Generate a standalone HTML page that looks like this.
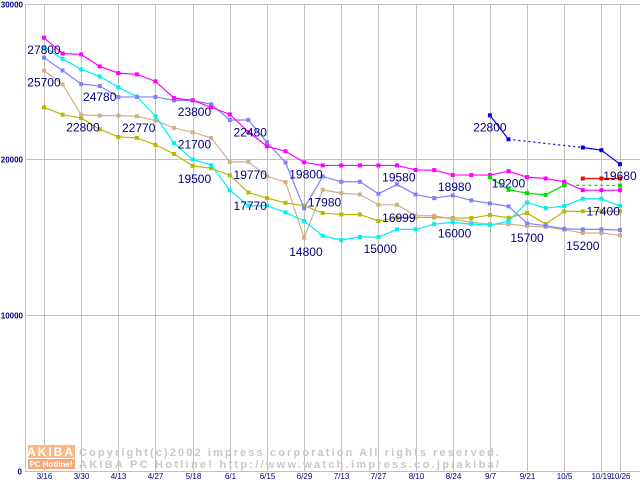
<!DOCTYPE html>
<html><head><meta charset="utf-8"><style>
body{margin:0;background:#fff;width:640px;height:480px;overflow:hidden}
svg{display:block}
text{font-family:"Liberation Sans",sans-serif}
</style></head><body>
<svg id="chart" width="640" height="480" viewBox="0 0 640 480" xmlns="http://www.w3.org/2000/svg">
<g id="grid"></g>
<g id="axes"></g>
<g id="watermark">
  <rect x="28" y="445" width="47" height="13" fill="#f8b888"/>
  <text x="51" y="456" font-size="12" font-weight="bold" fill="#fff" text-anchor="middle" letter-spacing="2">AKIBA</text>
  <rect x="28" y="459" width="47" height="10" fill="#f8a878"/>
  <text x="51" y="467" font-size="8" font-weight="bold" fill="#fff" text-anchor="middle">PC Hotline!</text>
  <text x="79" y="456" font-size="11" font-weight="bold" fill="#c8c8c8" textLength="420">Copyright(c)2002 impress corporation All rights reserved.</text>
  <text x="79" y="468" font-size="11" font-weight="bold" fill="#c8c8c8" textLength="420">AKIBA PC Hotline!  http://www.watch.impress.co.jp/akiba/</text>
</g>
<g id="series"></g>
<g id="labels"></g>
</svg>
<script>
const xTickLabels=["3/16","3/30","4/13","4/27","5/18","6/1","6/15","6/29","7/13","7/27","8/10","8/24","9/7","9/21","10/5","10/19","10/26"];
const xTickIndex=[0,2,4,6,8,10,12,14,16,18,20,22,24,26,28,30,31];
const yTicks=[0,10000,20000,30000];
const magenta=[27800,26790,26730,25960,25530,25450,25000,23930,23780,23330,22880,21750,20830,20510,19800,19600,19600,19600,19600,19600,19310,19300,18990,18980,18980,19230,18850,18760,18550,18010,18010,18010];
const lightBlue=[26520,25700,24830,24700,24000,24000,24000,23780,23780,23530,22520,22520,21090,19790,16840,18890,18550,18550,17780,18380,17730,17500,17670,17350,17160,16970,15880,15730,15530,15490,15490,15450];
const cyan=[27200,26450,25770,25320,24620,24020,22760,21030,19980,19620,18010,17010,17010,16580,16030,15080,14810,15000,15000,15490,15490,15830,15940,15830,15770,16010,17220,16860,16990,17460,17460,16990];
const tan=[25700,24810,22860,22800,22800,22760,22480,22010,21730,21370,19830,19830,18910,18530,14950,18030,17820,17730,17070,17070,16370,16370,16150,15940,15830,15830,15710,15640,15470,15260,15260,15110];
const olive=[23330,22860,22650,21920,21430,21370,20920,20340,19570,19420,18970,17860,17500,17200,17010,16540,16450,16450,16030,16240,16260,16260,16220,16220,16410,16240,16540,15830,16650,16650,16650,16650];
const greenSolid=[null,null,null,null,null,null,null,null,null,null,null,null,null,null,null,null,null,null,null,null,null,null,null,null,18830,18030,17820,17710,18330,null,null,null];
const greenDashed=[null,null,null,null,null,null,null,null,null,null,null,null,null,null,null,null,null,null,null,null,null,null,null,null,null,null,null,null,18330,null,null,18310];
const redSeries=[null,null,null,null,null,null,null,null,null,null,null,null,null,null,null,null,null,null,null,null,null,null,null,null,null,null,null,null,null,18760,18760,18760];
const blueSolid=[null,null,null,null,null,null,null,null,null,null,null,null,null,null,null,null,null,null,null,null,null,null,null,null,22820,21280,null,null,null,20750,20580,19680];
const blueDotted=[null,null,null,null,null,null,null,null,null,null,null,null,null,null,null,null,null,null,null,null,null,null,null,null,null,21280,null,null,null,20750,null,null];
const labelTexts=["27800","25700","24780","22800","22770","23800","21700","19500","22480","19770","17770","19800","17980","14800","19580","18980","16999","16000","15000","22800","19200","15700","15200","17400","19680"];
const labelIndex=[-0.9,-0.9,2.1,1.2,4.2,7.2,7.2,7.2,10.2,10.2,10.2,13.2,14.2,13.2,18.2,21.2,18.2,21.2,17.2,23.1,24.1,25.1,28.1,29.2,30.1];
const labelValues=[27800,25700,24780,22800,22770,23800,21700,19500,22480,19770,17770,19800,17980,14800,19580,18980,16999,16000,15000,22800,19200,15700,15200,17400,19680];

const NS="http://www.w3.org/2000/svg";
const X=i=>44+i*18.58;
const Y=v=>470.5-v*0.015565;
function mk(tag,attrs,parent){const e=document.createElementNS(NS,tag);for(const k in attrs)e.setAttribute(k,attrs[k]);parent.appendChild(e);return e;}
const grid=document.getElementById('grid'),axes=document.getElementById('axes'),ser=document.getElementById('series'),lab=document.getElementById('labels');
yTicks.forEach(t=>{const y=Math.round(Y(t))+0.5;
 const l=mk('line',{x1:25,x2:640,y1:y,y2:y,stroke:'#c0c0c0','stroke-width':1},grid);
 
 const tx=mk('text',{x:t===0?22:23,y:y+3,'font-size':8,'font-weight':'bold',fill:'#000080','text-anchor':'end'},axes);
 tx.textContent=String(t);});
xTickIndex.forEach((idx,k)=>{const x=Math.round(X(idx))+0.5;
 const l=mk('line',{x1:x,x2:x,y1:4,y2:471,stroke:'#c0c0c0','stroke-width':1},grid);
 
 const tx=mk('text',{x:x,y:479,'font-size':8,fill:'#000080','text-anchor':'middle'},axes);
 tx.textContent=xTickLabels[k];});
const ax=mk('line',{x1:25.5,x2:25.5,y1:4,y2:471,stroke:'#c0c0c0','stroke-width':1},axes);


function draw(name,vals,color,dash,markers){
 let segs=[],cur=[];
 vals.forEach((v,i)=>{if(v==null){if(cur.length)segs.push(cur);cur=[];}else cur.push([X(i),Y(v)]);});
 if(cur.length)segs.push(cur);
 if(dash){const pts=[];vals.forEach((v,i)=>{if(v!=null)pts.push([X(i),Y(v)]);});segs=[pts];}
 segs.forEach(s=>{if(s.length<2)return;
  const p=mk('polyline',{points:s.map(q=>q.join(',')).join(' '),fill:'none',stroke:color,'stroke-width':1.2},ser);
  if(dash)p.setAttribute('stroke-dasharray',dash);
  });
 if(markers)vals.forEach((v,i)=>{if(v==null)return;
  const r=mk('rect',{x:X(i)-2,y:Y(v)-2,width:4,height:4,fill:color},ser);
  });
}
draw('olive-series',olive,'#b8b800',null,true);
draw('tan-series',tan,'#d0b088',null,true);
draw('cyan-series',cyan,'#00f0f0',null,true);
draw('light-blue-series',lightBlue,'#8080ff',null,true);
draw('magenta-series',magenta,'#ff00ff',null,true);
draw('green-series',greenSolid,'#00e000',null,true);
draw('green-dashed-series',greenDashed,'#00e000','3,3',true);
draw('red-series',redSeries,'#ff0000',null,true);
draw('blue-series',blueSolid,'#0000e0',null,true);
draw('blue-dotted-series',blueDotted,'#0000e0','2,3',false);
labelTexts.forEach((t,k)=>{
 const tx=mk('text',{x:X(labelIndex[k]),y:Y(labelValues[k])+16,'font-size':12,fill:'#000080'},lab);
 tx.textContent=t;});
</script>
</body></html>
